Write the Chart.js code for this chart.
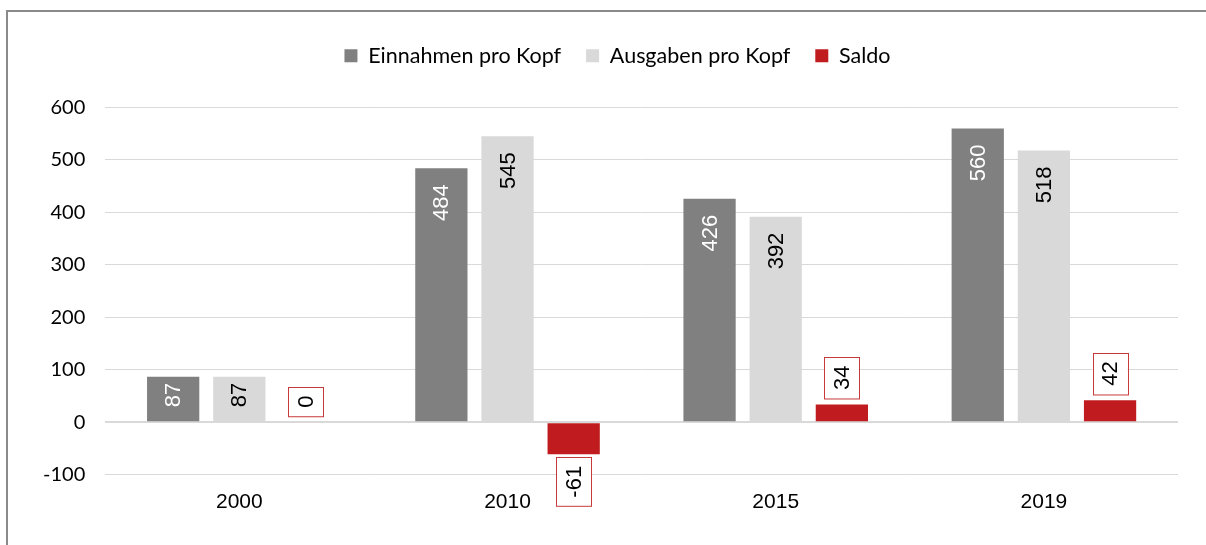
<!DOCTYPE html>
<html>
<head>
<meta charset="utf-8">
<script src="https://cdn.jsdelivr.net/npm/chart.js@4.4.0/dist/chart.umd.min.js"></script>
<style>
  html, body { margin: 0; padding: 0; background: #fff; overflow: hidden; }
  #frame { position: absolute; left: 6px; top: 10px; width: 1400px; height: 800px;
           border-left: 2px solid #8a8a8a; border-top: 2px solid #8a8a8a; }
  #chart { position: absolute; left: 0; top: 0; }
</style>
</head>
<body>
<div id="frame"></div>
<canvas id="chart" width="1206" height="545"></canvas>
<script>
const years = ['2000', '2010', '2015', '2019'];
const einnahmen = [87, 484, 426, 560];
const ausgaben = [87, 545, 392, 518];
const saldo = [0, -61, 34, 42];

const labelFont = '22px "Liberation Sans", Arial, sans-serif';

// rotated value labels, Saldo ones in a red box
const valueLabels = {
    id: 'valueLabels',
    afterDatasetsDraw(chart) {
        const ctx = chart.ctx;
        chart.data.datasets.forEach((ds, i) => {
            const meta = chart.getDatasetMeta(i);
            meta.data.forEach((bar, j) => {
                const v = ds.data[j];
                const txt = String(v);
                ctx.save();
                ctx.font = labelFont;
                const w = ctx.measureText(txt).width;
                if (i < 2) {
                    // short bars get their label pushed up to the top
                    const pad = Math.abs(bar.base - bar.y) < 80 ? 6 : 16;
                    ctx.translate(bar.x, bar.y + pad);
                    ctx.rotate(-Math.PI / 2);
                    ctx.textAlign = 'right';
                    ctx.textBaseline = 'middle';
                    ctx.fillStyle = i === 0 ? '#ffffff' : '#000000';
                    ctx.fillText(txt, 0, 1);
                } else {
                    const boxH = w + 17, boxW = 35;
                    const top = v >= 0 ? bar.y - 6 - boxH : bar.y + 3;
                    ctx.fillStyle = '#ffffff';
                    ctx.fillRect(bar.x - boxW / 2, top, boxW, boxH);
                    ctx.strokeStyle = '#c8393a';
                    ctx.lineWidth = 1;
                    ctx.strokeRect(Math.round(bar.x - boxW / 2) + 0.5, Math.round(top) + 0.5, boxW, boxH);
                    ctx.translate(bar.x, top + boxH / 2);
                    ctx.rotate(-Math.PI / 2);
                    ctx.textAlign = 'center';
                    ctx.textBaseline = 'middle';
                    ctx.fillStyle = '#000000';
                    ctx.fillText(txt, 0, 1);
                }
                ctx.restore();
            });
        });
    }
};

// more room under the legend, and nudge it right like the original
const legendGap = {
    id: 'legendGap',
    beforeInit(chart) {
        const fit = chart.legend.fit;
        chart.legend.fit = function () {
            fit.bind(chart.legend)();
            this.height += 31;
        };
    },
    afterLayout(chart) {
        chart.legend.left += 17;
        chart.legend.right += 17;
    }
};

new Chart(document.getElementById('chart'), {
    type: 'bar',
    data: {
        labels: years,
        datasets: [
            { label: 'Einnahmen pro Kopf', data: einnahmen, backgroundColor: '#808080' },
            { label: 'Ausgaben pro Kopf', data: ausgaben, backgroundColor: '#d9d9d9' },
            { label: 'Saldo', data: saldo, backgroundColor: '#c01c1f' }
        ]
    },
    options: {
        responsive: false,
        animation: false,
        categoryPercentage: 0.74,
        barPercentage: 0.79,
        layout: { padding: { top: 20, left: 23, right: 28, bottom: 23 } },
        plugins: {
            legend: {
                position: 'top',
                labels: {
                    boxWidth: 13, boxHeight: 13, color: '#000',
                    font: { family: 'Lato', size: 21.5 }, padding: 25
                }
            },
            tooltip: { enabled: false }
        },
        scales: {
            x: {
                grid: { display: false },
                border: { display: false },
                ticks: { color: '#000', font: { family: '"Liberation Sans", Arial', size: 21 }, padding: 7 }
            },
            y: {
                min: -100, max: 600,
                border: { display: false },
                grid: {
                    color: '#d9d9d9',
                    lineWidth: c => c.tick && c.tick.value === 0 ? 2 : 1,
                    drawTicks: false
                },
                ticks: { stepSize: 100, color: '#000', font: { family: 'Lato', size: 20 }, padding: 20 }
            }
        }
    },
    plugins: [valueLabels, legendGap]
});
</script>
</body>
</html>
